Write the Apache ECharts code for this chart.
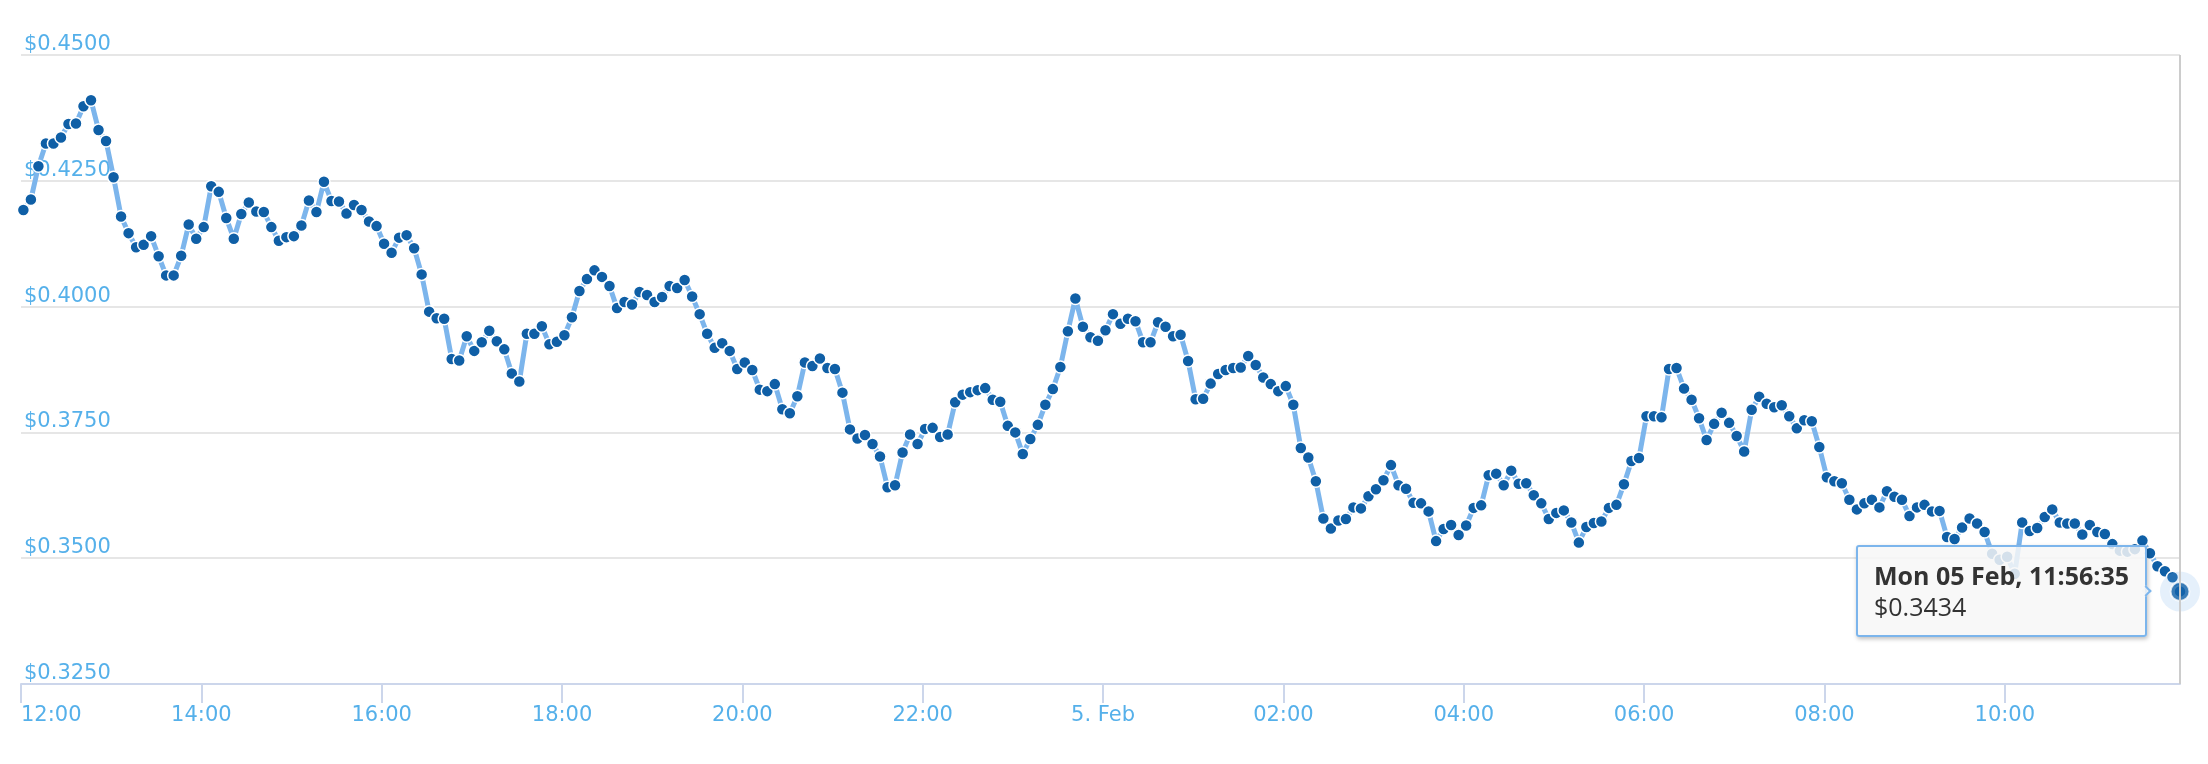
<!DOCTYPE html>
<html>
<head>
<meta charset="utf-8">
<title>Price chart</title>
<script src="https://cdn.jsdelivr.net/npm/echarts@6/dist/echarts.min.js"></script>
<style>
  html, body { margin: 0; padding: 0; background: #fff; }
  #chart { width: 2208px; height: 764px; }
</style>
</head>
<body>
<div id="chart"></div>
<script>
// one sample every 5 minutes, first one at 12:01:35 on 4 Feb (times kept in UTC)
const startTime = Date.UTC(2018, 1, 4, 12, 1, 35)
const stepMs = 5 * 60 * 1000
const axisStart = Date.UTC(2018, 1, 4, 12, 0, 0)
const tickStepMs = 2 * 3600 * 1000
const tickCount = 12

const prices1 = [
  0.4192, 0.4213, 0.4279, 0.4324, 0.4324, 0.4336, 0.4363, 0.4364, 0.4398, 0.4410,
  0.4351, 0.4329, 0.4257, 0.4179, 0.4146, 0.4118, 0.4123, 0.4140, 0.4100, 0.4062,
  0.4062, 0.4101, 0.4163, 0.4135, 0.4158, 0.4239, 0.4228, 0.4176, 0.4135, 0.4184,
  0.4207, 0.4189, 0.4188, 0.4158, 0.4131, 0.4138, 0.4140, 0.4161, 0.4211, 0.4188,
  0.4248, 0.4210, 0.4209, 0.4185, 0.4202, 0.4192, 0.4169, 0.4160, 0.4125, 0.4107,
  0.4137, 0.4142, 0.4116, 0.4064, 0.3990, 0.3977, 0.3976, 0.3896, 0.3893, 0.3941,
  0.3912, 0.3929, 0.3952, 0.3931, 0.3915, 0.3867, 0.3851, 0.3946, 0.3946, 0.3961,
  0.3925, 0.3930
]
const prices2 = [
  0.3943, 0.3979, 0.4031, 0.4055, 0.4072, 0.4059, 0.4041, 0.3997, 0.4009, 0.4004,
  0.4029, 0.4023, 0.4009, 0.4019, 0.4041, 0.4037, 0.4053, 0.4020, 0.3985, 0.3946,
  0.3918, 0.3927, 0.3912, 0.3876, 0.3889, 0.3874, 0.3835, 0.3832, 0.3846, 0.3796,
  0.3788, 0.3822, 0.3889, 0.3882, 0.3897, 0.3878, 0.3876, 0.3829, 0.3756, 0.3738,
  0.3745, 0.3727, 0.3702, 0.3641, 0.3645, 0.3710, 0.3746, 0.3727, 0.3757, 0.3759,
  0.3741, 0.3746, 0.3810, 0.3825, 0.3830, 0.3834, 0.3838, 0.3815, 0.3811, 0.3763,
  0.3750, 0.3707, 0.3737, 0.3765, 0.3805, 0.3836, 0.3880, 0.3951, 0.4016, 0.3960,
  0.3939, 0.3932, 0.3953
]
const prices3 = [
  0.3985, 0.3966, 0.3976, 0.3971, 0.3929, 0.3929, 0.3969, 0.3960, 0.3941, 0.3944,
  0.3892, 0.3816, 0.3817, 0.3847, 0.3866, 0.3874, 0.3878, 0.3879, 0.3902, 0.3884,
  0.3859, 0.3846, 0.3832, 0.3842, 0.3805, 0.3719, 0.3700, 0.3653, 0.3579, 0.3559,
  0.3575, 0.3578, 0.3601, 0.3599, 0.3623, 0.3637, 0.3655, 0.3685, 0.3645, 0.3638,
  0.3610, 0.3609, 0.3593, 0.3534, 0.3558, 0.3566, 0.3546, 0.3565, 0.3600, 0.3605,
  0.3665, 0.3668, 0.3645, 0.3674, 0.3648, 0.3649, 0.3625, 0.3609, 0.3578, 0.3590,
  0.3595, 0.3571, 0.3531, 0.3562, 0.3570, 0.3573, 0.3600, 0.3606, 0.3647, 0.3693,
  0.3699, 0.3782
]
const prices4 = [
  0.3782, 0.3780, 0.3876, 0.3878, 0.3837, 0.3815, 0.3778, 0.3735, 0.3767, 0.3789,
  0.3769, 0.3743, 0.3712, 0.3795, 0.3821, 0.3807, 0.3800, 0.3804, 0.3782, 0.3758,
  0.3774, 0.3772, 0.3721, 0.3661, 0.3653, 0.3649, 0.3616, 0.3597, 0.3609, 0.3616,
  0.3601, 0.3633, 0.3622, 0.3616, 0.3584, 0.3601, 0.3606, 0.3593, 0.3594, 0.3542,
  0.3538, 0.3561, 0.3579, 0.3569, 0.3552, 0.3509, 0.3497, 0.3503, 0.3469, 0.3571,
  0.3554, 0.3560, 0.3582, 0.3597, 0.3571, 0.3569, 0.3569, 0.3547, 0.3566, 0.3552,
  0.3548, 0.3528, 0.3515, 0.3513, 0.3518, 0.3535, 0.3510, 0.3484, 0.3474, 0.3462,
  0.3434
]

const yTicks = [0.325, 0.35, 0.375, 0.4, 0.425, 0.45]

const prices = prices1.concat(prices2, prices3, prices4)
const points = prices.map((p, i) => [startTime + i * stepMs, p])
const lastPoint = points[points.length - 1]
const xTicks = []
for (let i = 0; i < tickCount; i++) xTicks.push(axisStart + i * tickStepMs)

const days = ['Sun', 'Mon', 'Tue', 'Wed', 'Thu', 'Fri', 'Sat']
const months = ['Jan', 'Feb', 'Mar', 'Apr', 'May', 'Jun', 'Jul', 'Aug', 'Sep', 'Oct', 'Nov', 'Dec']
const pad = n => (n < 10 ? '0' : '') + n

const labelColor = '#55b0ea'
const font = '"DejaVu Sans", sans-serif'
const tipFont = '"Open Sans", sans-serif'

const chart = echarts.init(document.getElementById('chart'))

chart.setOption({
  animation: false,
  backgroundColor: '#ffffff',
  grid: { left: 21, right: 28, top: 55, bottom: 80, outerBoundsMode: 'none' },
  tooltip: {
    trigger: 'item',
    triggerOn: 'none',
    alwaysShowContent: true,
    position: 'left',
    backgroundColor: 'rgba(247,247,247,0.85)',
    borderColor: '#7cb5ec',
    borderWidth: 2,
    padding: [13, 16],
    textStyle: { color: '#333333', fontSize: 25, fontFamily: tipFont },
    extraCssText: 'border-radius:3px;box-shadow:1px 2px 4px rgba(0,0,0,0.25);line-height:31px;margin-left:-12px;',
    formatter: params => {
      const d = new Date(params.value[0])
      const head = days[d.getUTCDay()] + ' ' + pad(d.getUTCDate()) + ' ' + months[d.getUTCMonth()] + ', ' +
        pad(d.getUTCHours()) + ':' + pad(d.getUTCMinutes()) + ':' + pad(d.getUTCSeconds())
      return '<b>' + head + '</b><br/>$' + params.value[1].toFixed(4)
    }
  },
  xAxis: {
    type: 'value',
    min: axisStart,
    max: lastPoint[0],
    axisLine: { show: true, lineStyle: { color: '#ccd6eb', width: 2 } },
    axisTick: { show: true, length: 19, customValues: xTicks, lineStyle: { color: '#ccd6eb', width: 2 } },
    splitLine: { show: false },
    axisLabel: {
      customValues: xTicks,
      color: labelColor,
      fontSize: 21,
      fontFamily: font,
      margin: 21,
      alignMinLabel: 'left',
      formatter: value => {
        const d = new Date(value)
        if (d.getUTCHours() === 0 && d.getUTCMinutes() === 0) {
          return d.getUTCDate() + '. ' + months[d.getUTCMonth()]
        }
        return pad(d.getUTCHours()) + ':' + pad(d.getUTCMinutes())
      }
    }
  },
  yAxis: {
    type: 'value',
    min: yTicks[0],
    max: yTicks[yTicks.length - 1],
    interval: 0.025,
    axisLine: { show: false },
    axisTick: { show: false },
    splitLine: { lineStyle: { color: '#e6e6e6', width: 2 } },
    axisLabel: {
      inside: true,
      margin: 3,
      color: labelColor,
      fontSize: 21,
      fontFamily: font,
      verticalAlign: 'bottom',
      formatter: v => '$' + v.toFixed(4)
    }
  },
  series: [
    {
      type: 'line',
      data: points,
      symbol: 'circle',
      symbolSize: 12,
      showSymbol: true,
      z: 2,
      lineStyle: { color: '#7cb5ec', width: 5 },
      itemStyle: { color: '#0f5fa6', borderColor: '#ffffff', borderWidth: 1.5 },
      markLine: {
        silent: true,
        symbol: ['none', 'none'],
        label: { show: false },
        lineStyle: { color: '#cccccc', width: 2, type: 'solid' },
        data: [{ xAxis: lastPoint[0] }]
      }
    },
    {
      // hover halo round the last point
      type: 'scatter',
      data: [lastPoint],
      symbolSize: 40,
      silent: true,
      z: 3,
      itemStyle: { color: 'rgba(124,181,236,0.25)' }
    },
    {
      type: 'scatter',
      data: [lastPoint],
      symbolSize: 19,
      z: 4,
      itemStyle: { color: '#0f5fa6', borderColor: '#ffffff', borderWidth: 2 }
    }
  ]
})

chart.dispatchAction({ type: 'showTip', seriesIndex: 2, dataIndex: 0 })
</script>
</body>
</html>
